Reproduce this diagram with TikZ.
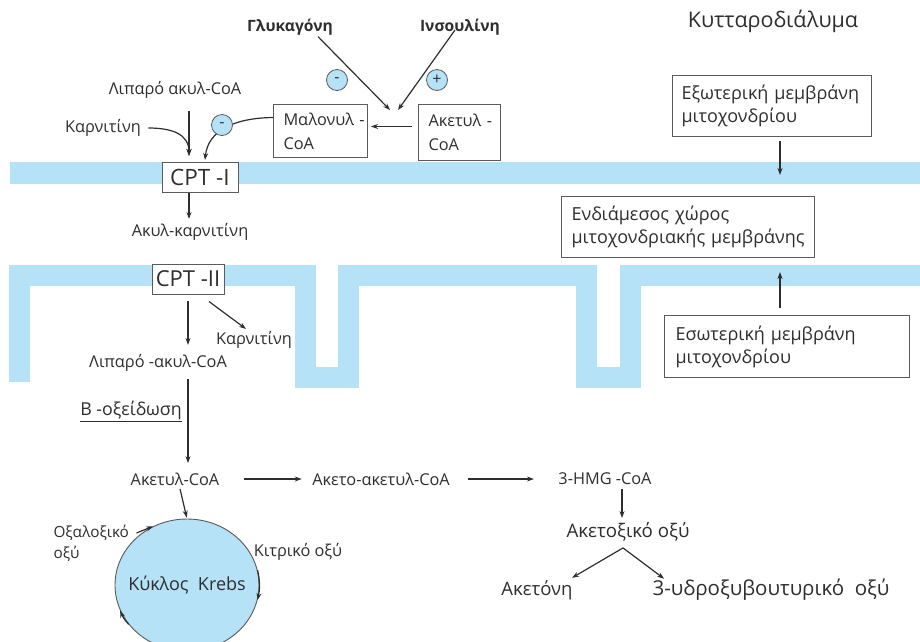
\documentclass[tikz,border=0pt]{standalone}
\usepackage{fontspec}
\setmainfont{Open Sans}
\usetikzlibrary{arrows.meta,shapes.geometric,calc}
\definecolor{membblue}{HTML}{B5E2F6}
\definecolor{ink}{HTML}{2E2E2E}
\definecolor{edge}{HTML}{5A5A5A}
\newcommand\fsz[2]{\fontsize{#1}{#2}\selectfont}

\begin{document}
\begin{tikzpicture}[x=1pt,y=-1pt,
  every node/.style={text=ink, font=\fsz{16.3}{20}},
  arr/.style={draw=ink, line width=1.2pt, -{Stealth[length=7pt,width=5pt]}},
  box/.style={draw=edge, line width=1pt, fill=white, align=left, anchor=north west},
  sign/.style={circle, draw=edge, line width=0.8pt, fill=membblue, minimum size=21pt, inner sep=0pt, font=\fsz{16}{16}},
  membrane/.style={draw=membblue, line width=21pt, line join=miter, line cap=butt}
]
\useasboundingbox (0,0) rectangle (920,641);

% membranes
\fill[membblue] (10,162) rectangle (920,184);
\draw[membrane] (19.5,382) -- (19.5,275) -- (305,275) -- (305,377) -- (348.5,377)
  -- (348.5,275) -- (586.5,275) -- (586.5,377) -- (630.5,377) -- (630.5,275) -- (920,275);

% cytosol side
\node[font=\fsz{21.5}{24}] (cyto) at (773,21) {Κυτταροδιάλυμα};
\node[font=\bfseries\fsz{15.6}{18}] (gluc) at (290,27) {Γλυκαγόνη};
\node[font=\bfseries\fsz{15.6}{18}] (ins) at (460,27) {Ινσουλίνη};
\node[sign] (gminus) at (337,80) {-};
\node[sign] (iplus) at (437,80) {+};
\coordinate (gtip) at (390,110);
\coordinate (itip) at (398,110);
\draw[arr] ([shift={(28pt,2pt)}]gluc.south) -- (gtip);
\draw[arr] ([shift={(-5pt,-3pt)}]ins.center) -- (itip);

\node[box, text width=74pt, inner xsep=10pt, minimum height=53pt, font=\fsz{16.3}{24}] (malbox) at (273,104) {\mbox{Μαλονυλ -}\\CoA};
\node[box, text width=62pt, inner xsep=10pt, minimum height=56pt, font=\fsz{16.3}{24}] (acbox) at (418,104) {\mbox{Ακετυλ -}\\CoA};
\draw[arr, shorten <=6pt, shorten >=3pt] ([yshift=6pt]acbox.west) -- ([yshift=4.5pt]malbox.east);

\node (lipa) at (175,90) {Λιπαρό ακυλ-CoA};
\node (karn1) at (103,128) {Καρνιτίνη};
\node[draw=edge, line width=1pt, fill=white, minimum width=76pt, minimum height=30pt, inner sep=0pt, font=\fsz{22.5}{24}] (cpt1) at (200,177) {CPT\ -I};
\coordinate (cin) at (189,156);
\coordinate (cin2) at (205,160);
\draw[arr] ([yshift=-9pt]lipa.south -| cin) -- (cin);
\draw[arr, shorten <=4pt] (karn1.east) .. controls (172,128) and (189,134) .. (cin);
\draw[arr] ([yshift=13.5pt]malbox.west) .. controls (235,118) and (208,130) .. (cin2);
\node[sign] (mminus) at (222,125) {-};

% intermembrane space
\node (acylc) at (190,232) {Ακυλ-καρνιτίνη};
\draw[arr, shorten >=1pt] (cpt1.south -| cin) -- (acylc.north -| cin);

% matrix side
\node[draw=edge, line width=1pt, fill=white, minimum width=72pt, minimum height=30pt, inner sep=0pt, font=\fsz{22}{24}] (cpt2) at (188,279) {CPT\ -II};
\node (karn2) at (254,340) {Καρνιτίνη};
\node (lipa2) at (158,363) {Λιπαρό -ακυλ-CoA};
\draw[arr, shorten <=6pt, shorten >=6pt] (cpt2.south) -- (cpt2.south |- lipa2.north);
\draw[arr] ([shift={(21pt,-7pt)}]cpt2.south) -- ([shift={(-8pt,-1pt)}]karn2.north);

\node[font=\fsz{17.8}{20}] (beta) at (131,411) {\underline{Β -οξείδωση}};
\node (acet) at (175,479) {Ακετυλ-CoA};
\draw[arr, shorten <=4pt, shorten >=6pt] ([xshift=30pt]lipa2.south) -- ([xshift=13pt]acet.north);

\node (acac) at (381,479) {Ακετο-ακετυλ-CoA};
\node (hmg) at (605,479) {3-HMG -CoA};
\node[font=\fsz{18.7}{22}] (acetox) at (628,532) {Ακετοξικό οξύ};
\node[font=\fsz{18.5}{22}] (aceton) at (537,590) {Ακετόνη};
\node[font=\fsz{20.5}{24}] (hydroxy) at (771,590) {3-υδροξυβουτυρικό\ \ οξύ};
\draw[arr, shorten <=21pt, shorten >=7pt] (acet.east) -- (acac.west);
\draw[arr, shorten <=15pt, shorten >=21pt] (acac.east) -- (hmg.west);
\draw[arr, shorten >=1pt] ([xshift=17pt]hmg.south) -- ([xshift=-6pt]acetox.north);
\draw[arr] ([shift={(-5pt,-3pt)}]acetox.south) -- ([shift={(-4pt,-1pt)}]aceton.north east);
\draw[arr] ([shift={(-5pt,-3pt)}]acetox.south) -- ([shift={(15pt,-3pt)}]hydroxy.north west);

% Krebs cycle
\node[ellipse, draw=edge, line width=0.9pt, fill=membblue, minimum width=144pt, minimum height=132pt, inner sep=0pt] (krebs) at (187,585) {};
\node[font=\fsz{18}{22}] (krebstxt) at (krebs.center) {Κύκλος\ \ Krebs};
\draw[arr, shorten >=1pt] ([xshift=5pt]acet.south) -- (krebs.north);
\node[align=left, anchor=west, font=\fsz{15.3}{21}] (oxal) at (50,543) {Οξαλοξικό\\οξύ};
\draw[arr] ([shift={(4pt,10pt)}]oxal.east) -- (krebs.120);
\node (citr) at (298,552) {Κιτρικό\ οξύ};
\draw[arr] (krebs.12) to[bend left=12] (krebs.-12);
\draw[arr] (krebs.-146) to[bend left=10] (krebs.-159);

% legend boxes
\node[box, text width=181pt, minimum height=61pt, inner xsep=9pt, font=\fsz{18}{23}] (outerm) at (672,75) {Εξωτερική~μεμβράνη\\μιτοχονδρίου};
\coordinate (omem) at (780,175);
\draw[arr, shorten <=4pt] (outerm.south -| omem) -- (omem);
\node[box, text width=233pt, minimum height=61pt, inner xsep=10pt, font=\fsz{18}{23}] (interm) at (561,196) {Ενδιάμεσος~χώρος\\μιτοχονδριακής~μεμβράνης};
\node[box, text width=223pt, minimum height=62pt, inner xsep=11pt, font=\fsz{18}{23}] (innerm) at (664,315) {Εσωτερική~μεμβράνη\\μιτοχονδρίου};
\coordinate (imem) at (780,272);
\draw[arr, shorten <=7pt] (innerm.north -| imem) -- (imem);
\end{tikzpicture}
\end{document}
